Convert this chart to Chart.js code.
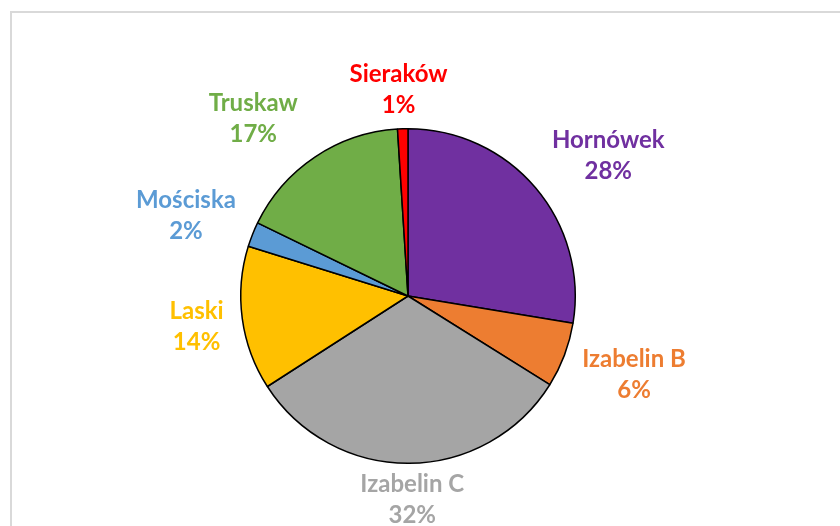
<!DOCTYPE html>
<html>
<head>
<meta charset="utf-8">
<script src="https://cdn.jsdelivr.net/npm/chart.js@4.4.1/dist/chart.umd.min.js"></script>
<style>
  html, body { margin: 0; padding: 0; background: #fff; }
  #wrap { width: 840px; height: 526px; }
</style>
</head>
<body>
<div id="wrap"><canvas id="pie" width="840" height="526"></canvas></div>
<script>
// values (percent of total)
const places = ['Hornówek', 'Izabelin B', 'Izabelin C', 'Laski', 'Mościska', 'Truskaw', 'Sieraków'];
const shares = [27.6, 6.3, 32.0, 13.9, 2.4, 16.8, 1.0];
const colors = ['#7030A0', '#ED7D31', '#A5A5A5', '#FFC000', '#5B9BD5', '#70AD47', '#FF0000'];

// frame around the chart (only left and top edges are visible in the picture)
const framePlugin = {
  id: 'frame',
  beforeDraw(chart) {
    const ctx = chart.ctx;
    ctx.save();
    ctx.strokeStyle = '#d9d9d9';
    ctx.lineWidth = 2;
    ctx.beginPath();
    ctx.moveTo(11, chart.height);
    ctx.lineTo(11, 12);
    ctx.lineTo(chart.width, 12);
    ctx.stroke();
    ctx.restore();
  }
};

// category name + percent outside each slice
const outsideLabels = {
  id: 'outsideLabels',
  afterDatasetsDraw(chart, args, opts) {
    const ctx = chart.ctx;
    const meta = chart.getDatasetMeta(0);
    const data = chart.data.datasets[0].data;
    const total = data.reduce((a, b) => a + b, 0);
    ctx.save();
    ctx.font = opts.font;
    ctx.textAlign = 'center';
    ctx.textBaseline = 'middle';
    meta.data.forEach((arc, i) => {
      const p = arc.getProps(['x', 'y', 'startAngle', 'endAngle', 'outerRadius']);
      const mid = (p.startAngle + p.endAngle) / 2;
      const ux = Math.cos(mid), uy = Math.sin(mid);
      const line1 = chart.data.labels[i];
      const line2 = Math.round(data[i] / total * 100) + '%';
      const hw = Math.max(ctx.measureText(line1).width, ctx.measureText(line2).width) / 2;
      const d = p.outerRadius + opts.gap + Math.abs(ux) * hw + Math.abs(uy) * opts.halfHeight;
      const nudge = (opts.nudge && opts.nudge[i]) || [0, 0];
      const cx = p.x + ux * d + nudge[0];
      const cy = p.y + uy * d + nudge[1];
      ctx.fillStyle = colors[i];
      ctx.fillText(line1, cx, cy - opts.lineHeight / 2);
      ctx.fillText(line2, cx, cy + opts.lineHeight / 2);
    });
    ctx.restore();
  }
};

new Chart(document.getElementById('pie'), {
  type: 'pie',
  data: {
    labels: places,
    datasets: [{
      data: shares,
      backgroundColor: colors,
      borderColor: '#000',
      borderWidth: 1.5
    }]
  },
  options: {
    responsive: false,
    animation: false,
    layout: { padding: { top: 128, bottom: 62, left: 100, right: 124 } },
    plugins: {
      legend: { display: false },
      tooltip: { enabled: false },
      outsideLabels: {
        font: 'bold 24px Lato',
        lineHeight: 31,
        halfHeight: 24,
        gap: 12,
        nudge: [[19, 14], [5, -5], [3, 0], [-4, 3], [-4, 6], [-30, 9], [-3, -2]]
      }
    }
  },
  plugins: [framePlugin, outsideLabels]
});
</script>
</body>
</html>
